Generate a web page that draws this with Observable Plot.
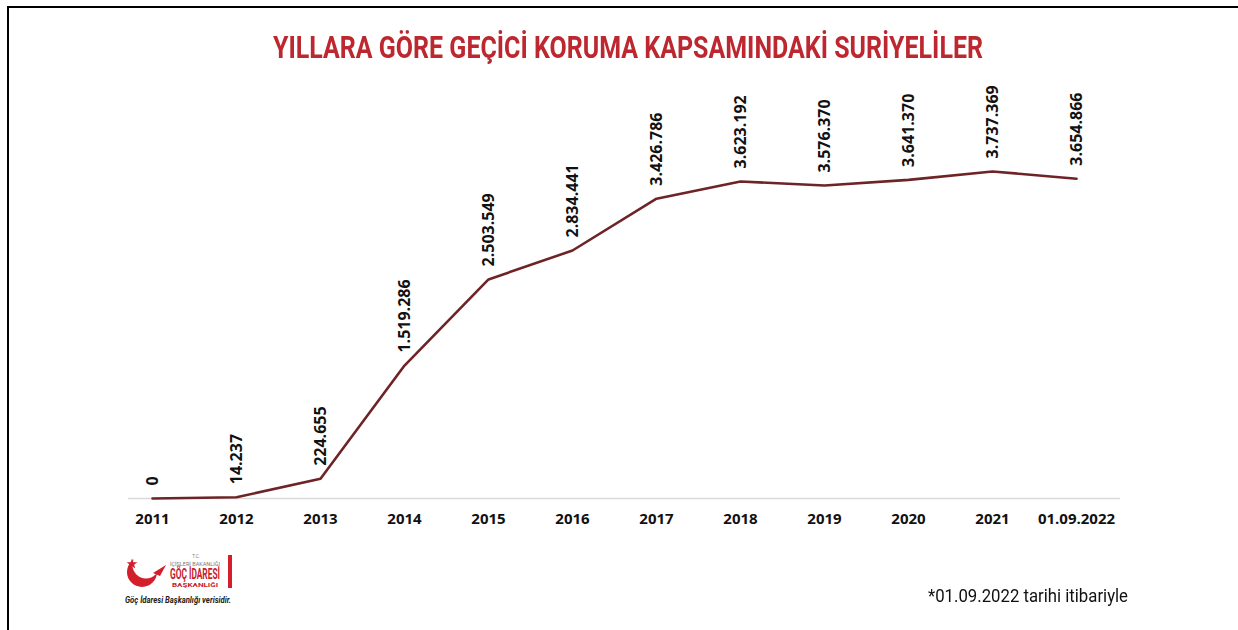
<!DOCTYPE html>
<html><head><meta charset="utf-8">
<script src="https://cdn.jsdelivr.net/npm/d3@7"></script>
<script src="https://cdn.jsdelivr.net/npm/@observablehq/plot@0.6"></script>
<style>
html,body{margin:0;padding:0;background:#fff;width:1238px;height:630px;overflow:hidden;position:relative;}
#frame{position:absolute;left:7px;top:6px;width:1240px;height:640px;border-top:2px solid #000;border-left:2px solid #000;}
#title{position:absolute;left:273px;top:32px;line-height:31px;font-family:Roboto,sans-serif;font-weight:bold;font-size:31px;color:#bd2830;white-space:nowrap;transform-origin:0 50%;}
#chart{position:absolute;left:0;top:80px;}
#note{position:absolute;left:928px;top:586px;line-height:19px;font-family:Roboto,sans-serif;font-size:19px;color:#111;white-space:nowrap;transform-origin:0 50%;}
#logo{position:absolute;left:115px;top:545px;}
</style>
</head><body>
<div id="frame"></div>
<div id="title">YILLARA GÖRE GEÇİCİ KORUMA KAPSAMINDAKİ SURİYELİLER</div>
<div id="chart"></div>
<div id="note">*01.09.2022 tarihi itibariyle</div>
<svg id="logo" width="140" height="65" viewBox="0 0 140 65">
  <defs>
    <mask id="cm"><rect width="140" height="65" fill="#fff"/><circle cx="31" cy="20" r="13.5" fill="#000"/></mask>
  </defs>
  <circle cx="27" cy="27" r="15" fill="#d21f2b" mask="url(#cm)"/>
  <path d="M38,28 L51,20 L45,31 Z" fill="#d21f2b"/>
  <polygon fill="#d21f2b" points="17,13.5 18.3,17.3 22.3,17.3 19.1,19.7 20.3,23.5 17,21.2 13.7,23.5 14.9,19.7 11.7,17.3 15.7,17.3"/>
  <text x="81" y="13" font-family="Roboto,sans-serif" font-size="4.5" fill="#777" text-anchor="middle">T.C.</text>
  <text x="55" y="21" font-family="Roboto,sans-serif" font-size="6" fill="#777" textLength="50" lengthAdjust="spacingAndGlyphs">İÇİŞLERİ BAKANLIĞI</text>
  <text x="55" y="34" font-family="Roboto,sans-serif" font-weight="bold" font-size="14" fill="#c8202c" textLength="50" lengthAdjust="spacingAndGlyphs">GÖÇ İDARESİ</text>
  <text x="57" y="42" font-family="Roboto,sans-serif" font-weight="bold" font-size="6" fill="#c8202c" textLength="46" lengthAdjust="spacingAndGlyphs">BAŞKANLIĞI</text>
  <rect x="113" y="10" width="4" height="33" fill="#d21f2b"/>
  <text x="10" y="58" font-family="Roboto,sans-serif" font-style="italic" font-weight="bold" font-size="9.5" fill="#222" textLength="106" lengthAdjust="spacingAndGlyphs">Göç İdaresi Başkanlığı verisidir.</text>
</svg>
<script>
const years = ["2011","2012","2013","2014","2015","2016","2017","2018","2019","2020","2021","01.09.2022"];
const values = [0,14237,224655,1519286,2503549,2834441,3426786,3623192,3576370,3641370,3737369,3654866];
const data = years.map((year,i)=>({year, value: values[i]}));
const fmt = d3.formatLocale({decimal:",",thousands:".",grouping:[3],currency:["",""]}).format(",d");
const chart = Plot.plot({
  width:1238, height:458, marginLeft:150, marginRight:161, marginTop:68, marginBottom:40,
  style:{background:"transparent", fontFamily:"'Open Sans', sans-serif", color:"#111"},
  x:{type:"point", domain: years, padding:0},
  y:{domain:[0,4000000], axis:null},
  marks:[
    Plot.ruleY([0], {stroke:"#d9d9d9", strokeWidth:1.5, insetLeft:-22, insetRight:-43}),
    Plot.axisX({tickSize:0, tickPadding:15, fontSize:15, fontWeight:"bold", label:null}),
    Plot.lineY(data, {x:"year", y:"value", stroke:"#6e2426", strokeWidth:2.6}),
    Plot.text(data, {x:"year", y:"value", text: d=>fmt(d.value), rotate:-90, textAnchor:"start", lineAnchor:"middle", dy:-13, fontSize:16, fontWeight:"bold", fill:"#111"})
  ]
});
document.getElementById("chart").appendChild(chart);
function fitWidth(id, target){
  const el = document.getElementById(id);
  const w = el.getBoundingClientRect().width;
  el.style.transform = `scaleX(${target / w})`;
}
fitWidth("title", 710);
fitWidth("note", 200);
</script>
</body></html>
